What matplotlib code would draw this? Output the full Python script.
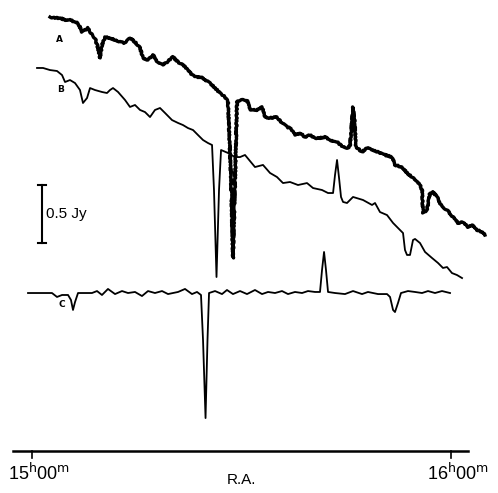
import matplotlib
matplotlib.use("Agg")
import matplotlib.pyplot as plt

# RA offset from 15h00m (minutes) and flux (Jy, traces vertically offset)
ra_a = [2.58, 3.29, 4.01, 4.73, 5.44, 6.16, 6.59, 7.16, 7.59, 8.02, 8.59, 9.02, 9.45, 9.74, 10.02,
        10.45, 11.17, 11.89, 12.60, 13.32, 14.03, 14.75, 15.47, 15.90, 16.61, 17.33, 18.04, 18.76,
        19.33, 20.19, 20.91, 21.62, 22.34, 22.91, 23.63, 24.34, 24.77, 25.49, 26.21, 26.92, 27.64,
        28.07, 28.50, 28.78, 29.07, 29.36, 29.79, 30.79, 31.22, 32.22, 32.94, 33.37, 34.08, 35.08,
        35.80, 36.52, 36.95, 37.66, 38.38, 39.09, 39.81, 40.53, 41.24, 41.96, 42.67, 43.68, 44.54,
        45.25, 45.54, 45.83, 45.97, 46.18, 46.40, 47.26, 47.97, 48.83, 49.83, 50.55, 51.55, 51.98,
        52.98, 53.70, 54.56, 55.56, 55.85, 55.99, 56.56, 56.99, 57.42, 58.00, 58.71, 59.43, 60.29,
        61.00, 61.72, 62.44, 63.01, 63.73, 64.44, 64.87]
flux_a = [3.741, 3.733, 3.733, 3.716, 3.716, 3.698, 3.690, 3.612, 3.629, 3.647, 3.586, 3.560, 3.474,
          3.388, 3.500, 3.569, 3.560, 3.543, 3.526, 3.517, 3.560, 3.526, 3.474, 3.388, 3.371, 3.414,
          3.345, 3.328, 3.353, 3.397, 3.353, 3.328, 3.284, 3.241, 3.224, 3.224, 3.198, 3.172, 3.129,
          3.086, 3.052, 3.009, 2.336, 1.664, 2.336, 3.009, 3.026, 3.026, 2.940, 2.940, 2.966, 2.879,
          2.871, 2.879, 2.828, 2.793, 2.784, 2.724, 2.741, 2.707, 2.724, 2.698, 2.698, 2.707, 2.681,
          2.664, 2.621, 2.612, 2.638, 2.853, 2.966, 2.853, 2.621, 2.578, 2.612, 2.595, 2.569, 2.552,
          2.534, 2.466, 2.448, 2.397, 2.353, 2.293, 2.250, 2.052, 2.078, 2.224, 2.233, 2.190, 2.103,
          2.078, 2.017, 1.966, 1.974, 1.931, 1.948, 1.905, 1.888, 1.862]

ra_b = [0.72, 1.58, 2.58, 3.58, 4.30, 4.73, 5.44, 6.16, 6.87, 7.30, 7.88, 8.31, 9.02, 10.02, 10.74,
        11.17, 11.60, 12.32, 13.32, 14.03, 14.75, 15.47, 16.18, 16.90, 17.61, 18.33, 19.05, 20.05,
        20.91, 21.62, 22.34, 23.06, 23.77, 24.49, 25.20, 25.78, 26.06, 26.42, 26.78, 27.07, 28.07,
        29.07, 29.79, 30.50, 31.93, 33.08, 34.08, 35.08, 35.94, 36.95, 38.09, 39.38, 40.24, 41.53,
        42.39, 43.11, 43.39, 43.68, 43.97, 44.25, 44.54, 45.11, 45.97, 47.40, 48.69, 49.12, 49.83,
        50.84, 51.70, 52.70, 53.13, 53.41, 53.70, 54.13, 54.56, 54.85, 55.56, 56.28, 57.28, 58.14,
        58.85, 59.43, 60.14, 60.86, 61.58]
flux_b = [3.302, 3.302, 3.284, 3.276, 3.241, 3.181, 3.198, 3.172, 3.112, 3.000, 3.043, 3.129, 3.112,
          3.095, 3.086, 3.112, 3.129, 3.095, 3.026, 2.966, 2.983, 2.940, 2.922, 2.879, 2.940, 2.957,
          2.914, 2.853, 2.828, 2.810, 2.784, 2.767, 2.724, 2.681, 2.655, 2.638, 2.250, 1.500, 2.250,
          2.595, 2.569, 2.534, 2.534, 2.552, 2.448, 2.466, 2.397, 2.362, 2.310, 2.319, 2.293, 2.310,
          2.267, 2.250, 2.224, 2.224, 2.379, 2.509, 2.353, 2.190, 2.147, 2.138, 2.190, 2.164, 2.121,
          2.138, 2.060, 2.034, 1.966, 1.905, 1.879, 1.733, 1.690, 1.690, 1.819, 1.828, 1.793, 1.716,
          1.664, 1.621, 1.578, 1.586, 1.534, 1.517, 1.491]

ra_c = [-0.57, 2.86, 3.58, 4.30, 5.16, 5.58, 5.87, 6.16, 6.59, 8.59, 9.31, 10.02, 10.88, 11.89,
        12.89, 13.75, 14.75, 15.75, 16.61, 17.61, 18.62, 19.48, 20.19, 20.91, 21.91, 22.91, 23.63,
        24.20, 24.49, 24.85, 25.13, 25.35, 26.21, 27.21, 27.92, 28.78, 29.79, 30.79, 31.93, 32.94,
        33.80, 34.80, 35.80, 36.66, 37.66, 38.67, 39.52, 40.53, 41.24, 41.53, 41.82, 42.10, 42.39,
        43.39, 44.82, 45.97, 47.26, 48.11, 49.55, 50.84, 51.27, 51.70, 51.98, 52.41, 52.84, 53.84,
        54.85, 55.85, 56.71, 57.71, 58.71, 59.86]
flux_c = [1.362, 1.362, 1.328, 1.345, 1.345, 1.302, 1.216, 1.284, 1.362, 1.362, 1.379, 1.345, 1.397,
          1.353, 1.379, 1.362, 1.371, 1.336, 1.379, 1.362, 1.379, 1.353, 1.362, 1.371, 1.397, 1.353,
          1.371, 1.345, 0.957, 0.284, 0.957, 1.362, 1.379, 1.353, 1.388, 1.353, 1.379, 1.353, 1.388,
          1.353, 1.371, 1.362, 1.379, 1.353, 1.371, 1.362, 1.379, 1.371, 1.371, 1.560, 1.716, 1.560,
          1.371, 1.362, 1.353, 1.379, 1.353, 1.371, 1.353, 1.353, 1.328, 1.216, 1.198, 1.276, 1.362,
          1.379, 1.371, 1.362, 1.379, 1.362, 1.379, 1.362]

trace_labels = ["A", "B", "C"]
label_pos = [(4.0, 3.55), (4.15, 3.12), (4.3, 1.26)]
scale_bar_jy = 0.5
tick_ra = [0, 60]
tick_labels = [r"15$^{\mathrm{h}}$00$^{\mathrm{m}}$", r"16$^{\mathrm{h}}$00$^{\mathrm{m}}$"]

fig = plt.figure(figsize=(4.98, 4.93), dpi=100)
ax = fig.add_axes([0, 0, 1, 1])
ax.set_xlim(-4.583, 66.73)
ax.set_ylim(-0.362, 3.888)
ax.axis("off")

la, = ax.plot(ra_a, flux_a, color="black", lw=2.4)
la.set_sketch_params(scale=0.6, length=2.0, randomness=4)
ax.plot(ra_b, flux_b, color="black", lw=1.3)
ax.plot(ra_c, flux_c, color="black", lw=1.3)

for lab, (x, y) in zip(trace_labels, label_pos):
    ax.text(x, y, lab, fontsize=6.5, fontweight="bold", ha="center", va="center",
            family="DejaVu Sans")

# scale bar
sb_x, sb_top = 1.43, 2.293
ax.plot([sb_x, sb_x], [sb_top, sb_top - scale_bar_jy], color="black", lw=1.5)
for yy in (sb_top, sb_top - scale_bar_jy):
    ax.plot([sb_x - 0.55, sb_x + 0.55], [yy, yy], color="black", lw=1.5)
ax.text(sb_x + 0.6, sb_top - scale_bar_jy / 2, "0.5 Jy", fontsize=11, va="center", ha="left",
        family="Liberation Sans")

# RA axis
ax.plot([-2.72, 62.44], [0, 0], color="black", lw=1.8)
for t, lab in zip(tick_ra, tick_labels):
    ax.plot([t, t], [0, -0.06], color="black", lw=1.2)
    ax.text(t + 1.0, -0.19, lab, fontsize=13, ha="center", va="center", family="Liberation Sans")
ax.text(30.0, -0.25, "R.A.", fontsize=11, ha="center", va="center", family="Liberation Sans")

fig.savefig("out.png", dpi=100)
